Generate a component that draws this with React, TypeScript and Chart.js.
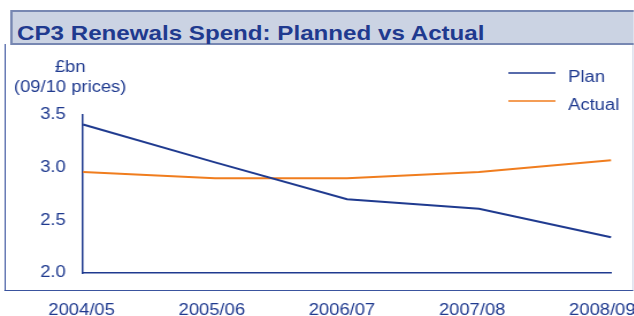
import React, { useEffect, useRef } from "react";
import { Chart, registerables } from "chart.js";

Chart.register(...registerables);

// ---- data ----
const categories = ["2004/05", "2005/06", "2006/07", "2007/08", "2008/09"];
const planValues = [3.41, 3.05, 2.7, 2.61, 2.34];
const actualValues = [2.96, 2.9, 2.9, 2.96, 3.07];
const yTickValues = [2.0, 2.5, 3.0, 3.5];
const seriesLabels = ["Plan", "Actual"];
const titleText = "CP3 Renewals Spend: Planned vs Actual";
const unitLines = ["£bn", "(09/10 prices)"];

// ---- style ----
const SX = 1.15; // horizontal stretch of the reference
const W = 551;
const H = 316;
const NAVY = "#1f3a8f";
const ORANGE = "#f07d1e";
const FONT = "'Liberation Sans', Arial, sans-serif";

const overlayPlugin = {
  id: "overlay",
  afterDraw(chart: any) {
    const ctx = chart.ctx;
    ctx.save();
    ctx.font = `16px ${FONT}`;
    ctx.fillStyle = NAVY;
    ctx.textAlign = "center";
    ctx.textBaseline = "alphabetic";
    ctx.fillText(unitLines[0], 61, 72);
    ctx.fillText(unitLines[1], 61, 92);
    chart.data.datasets.forEach((ds: any, i: number) => {
      const y = 73 + i * 28;
      ctx.strokeStyle = ds.borderColor;
      ctx.lineWidth = 1.5;
      ctx.beginPath();
      ctx.moveTo(442, y);
      ctx.lineTo(483, y);
      ctx.stroke();
      ctx.textAlign = "left";
      ctx.fillStyle = NAVY;
      ctx.fillText(ds.label, 494, y + 9);
    });
    ctx.restore();
  },
};

export default function App() {
  const ref = useRef<HTMLCanvasElement | null>(null);

  useEffect(() => {
    if (!ref.current) return;
    const chart = new Chart(ref.current, {
      type: "line",
      data: {
        labels: categories,
        datasets: [
          {
            label: seriesLabels[0],
            data: planValues,
            borderColor: NAVY,
            borderWidth: 2,
            pointRadius: 0,
            tension: 0,
            fill: false,
          },
          {
            label: seriesLabels[1],
            data: actualValues,
            borderColor: ORANGE,
            borderWidth: 2,
            pointRadius: 0,
            tension: 0,
            fill: false,
          },
        ],
      },
      options: {
        responsive: false,
        maintainAspectRatio: false,
        animation: false,
        devicePixelRatio: 1,
        layout: { padding: { left: 0, top: 115, right: W - 531.3, bottom: 0 } },
        plugins: {
          legend: { display: false },
          tooltip: { enabled: false },
          title: { display: false },
        },
        scales: {
          x: {
            type: "category",
            offset: false,
            position: "bottom",
            grid: { display: false, drawTicks: false },
            border: { display: true, color: NAVY, width: 1.5 },
            ticks: { display: false },
            afterFit(s: any) {
              s.height = 0;
              s.paddingLeft = 0;
              s.paddingRight = 0;
            },
          },
          xLabels: {
            type: "linear",
            position: "bottom",
            min: 0.011,
            max: 4.0667,
            afterBuildTicks(s: any) {
              s.ticks = categories.map((_, i) => ({ value: i }));
            },
            grid: { display: false, drawTicks: false },
            border: { display: false },
            ticks: {
              color: NAVY,
              font: { family: FONT, size: 16 },
              padding: 28,
              maxRotation: 0,
              autoSkip: false,
              callback: (v: any) => categories[Math.round(Number(v))] ?? "",
            },
            afterFit(s: any) {
              s.height = 43;
              s.paddingLeft = 0;
              s.paddingRight = 0;
            },
          },
          y: {
            type: "linear",
            min: 2,
            max: 3.5,
            afterBuildTicks(s: any) {
              s.ticks = yTickValues.map((v) => ({ value: v }));
            },
            grid: { display: false, drawTicks: false },
            border: { display: true, color: NAVY, width: 1.5 },
            ticks: {
              color: NAVY,
              font: { family: FONT, size: 16 },
              padding: 15,
              callback: (v: any) => Number(v).toFixed(1),
            },
            afterFit(s: any) {
              s.width = 72.2;
              s.paddingTop = 0;
              s.paddingBottom = 0;
            },
          },
        },
      },
      plugins: [overlayPlugin],
    } as any);
    return () => chart.destroy();
  }, []);

  return (
    <div
      style={{
        position: "absolute",
        left: 0,
        top: 0,
        width: W,
        height: H,
        overflow: "hidden",
        transform: `scaleX(${SX})`,
        transformOrigin: "0 0",
        background: "#ffffff",
      }}
    >
      {/* frame */}
      <div
        style={{
          position: "absolute",
          left: 4,
          top: 44,
          width: W - 4 - 1.5 - 1,
          height: 291 - 44 - 1.5,
          borderLeft: `1.5px solid #3a539e`,
          borderBottom: `1.5px solid #3a539e`,
          borderRight: `1px solid #c3cbe0`,
        }}
      />
      {/* title box */}
      <div
        style={{
          position: "absolute",
          left: 8.7,
          top: 10,
          width: 600,
          height: 35 - 4,
          background: "#cbd3e3",
          border: "2px solid #7787b2",
        }}
      />
      <div
        style={{
          position: "absolute",
          left: 14.8,
          top: 22.2,
          fontFamily: FONT,
          fontWeight: "bold",
          fontSize: 21,
          lineHeight: "21px",
          color: NAVY,
          whiteSpace: "nowrap",
        }}
      >
        {titleText}
      </div>
      <canvas
        ref={ref}
        width={W}
        height={H}
        style={{ position: "absolute", left: 0, top: 0, width: W, height: H, display: "block" }}
      />
    </div>
  );
}
